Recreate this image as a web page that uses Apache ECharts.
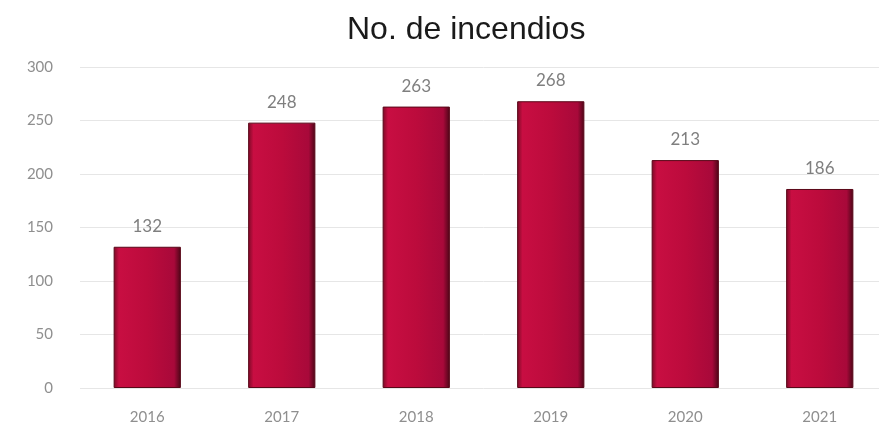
<!DOCTYPE html>
<html>
<head>
<meta charset="utf-8">
<script src="https://cdn.jsdelivr.net/npm/echarts@6/dist/echarts.min.js"></script>
<style>
  body { margin: 0; background: #fff; overflow: hidden; }
  /* plot runs a little past the right edge in the original */
  #incendios { width: 887px; height: 426px; }
</style>
</head>
<body>
<div id="incendios"></div>
<script>
var years = ['2016', '2017', '2018', '2019', '2020', '2021'];
var fires = [132, 248, 263, 268, 213, 186];
var yTicks = [0, 50, 100, 150, 200, 250, 300];

function incendiosChart() {
    var chart = echarts.init(document.getElementById('incendios'));

    // dark edges, brighter middle to get the shaded "3d" bar look
    var barColor = new echarts.graphic.LinearGradient(0, 0, 1, 0, [
        { offset: 0, color: '#7a0a26' },
        { offset: 0.08, color: '#c80e42' },
        { offset: 0.5, color: '#bc0b3c' },
        { offset: 0.9, color: '#a8093a' },
        { offset: 1, color: '#4a0616' }
    ]);

    var option = {
        title: {
            text: 'No. de incendios',
            left: 342,
            top: 9,
            textStyle: {
                fontFamily: 'Liberation Sans',
                fontSize: 32,
                fontWeight: 'normal',
                color: '#1a1a1a'
            }
        },
        grid: { left: 80, right: 0, top: 67, bottom: 38 },
        xAxis: {
            type: 'category',
            data: years,
            axisLine: { show: false },
            axisTick: { show: false },
            axisLabel: { color: '#8f8f8f', fontSize: 15, fontFamily: 'Lato', margin: 22 }
        },
        yAxis: {
            type: 'value',
            min: yTicks[0],
            max: yTicks[yTicks.length - 1],
            interval: 50,
            axisLabel: { color: '#8f8f8f', fontSize: 15, fontFamily: 'Lato', margin: 27 },
            splitLine: { lineStyle: { color: '#e6e6e6' } }
        },
        series: [
            {
                type: 'bar',
                data: fires,
                barWidth: '50%',
                itemStyle: {
                    color: barColor,
                    borderColor: '#5a0718',
                    borderWidth: 1
                },
                label: {
                    show: true,
                    position: 'top',
                    distance: 12,
                    color: '#7f7f7f',
                    fontSize: 17,
                    fontFamily: 'Lato'
                }
            }
        ]
    };
    option && chart.setOption(option);
}
incendiosChart();
</script>
</body>
</html>
